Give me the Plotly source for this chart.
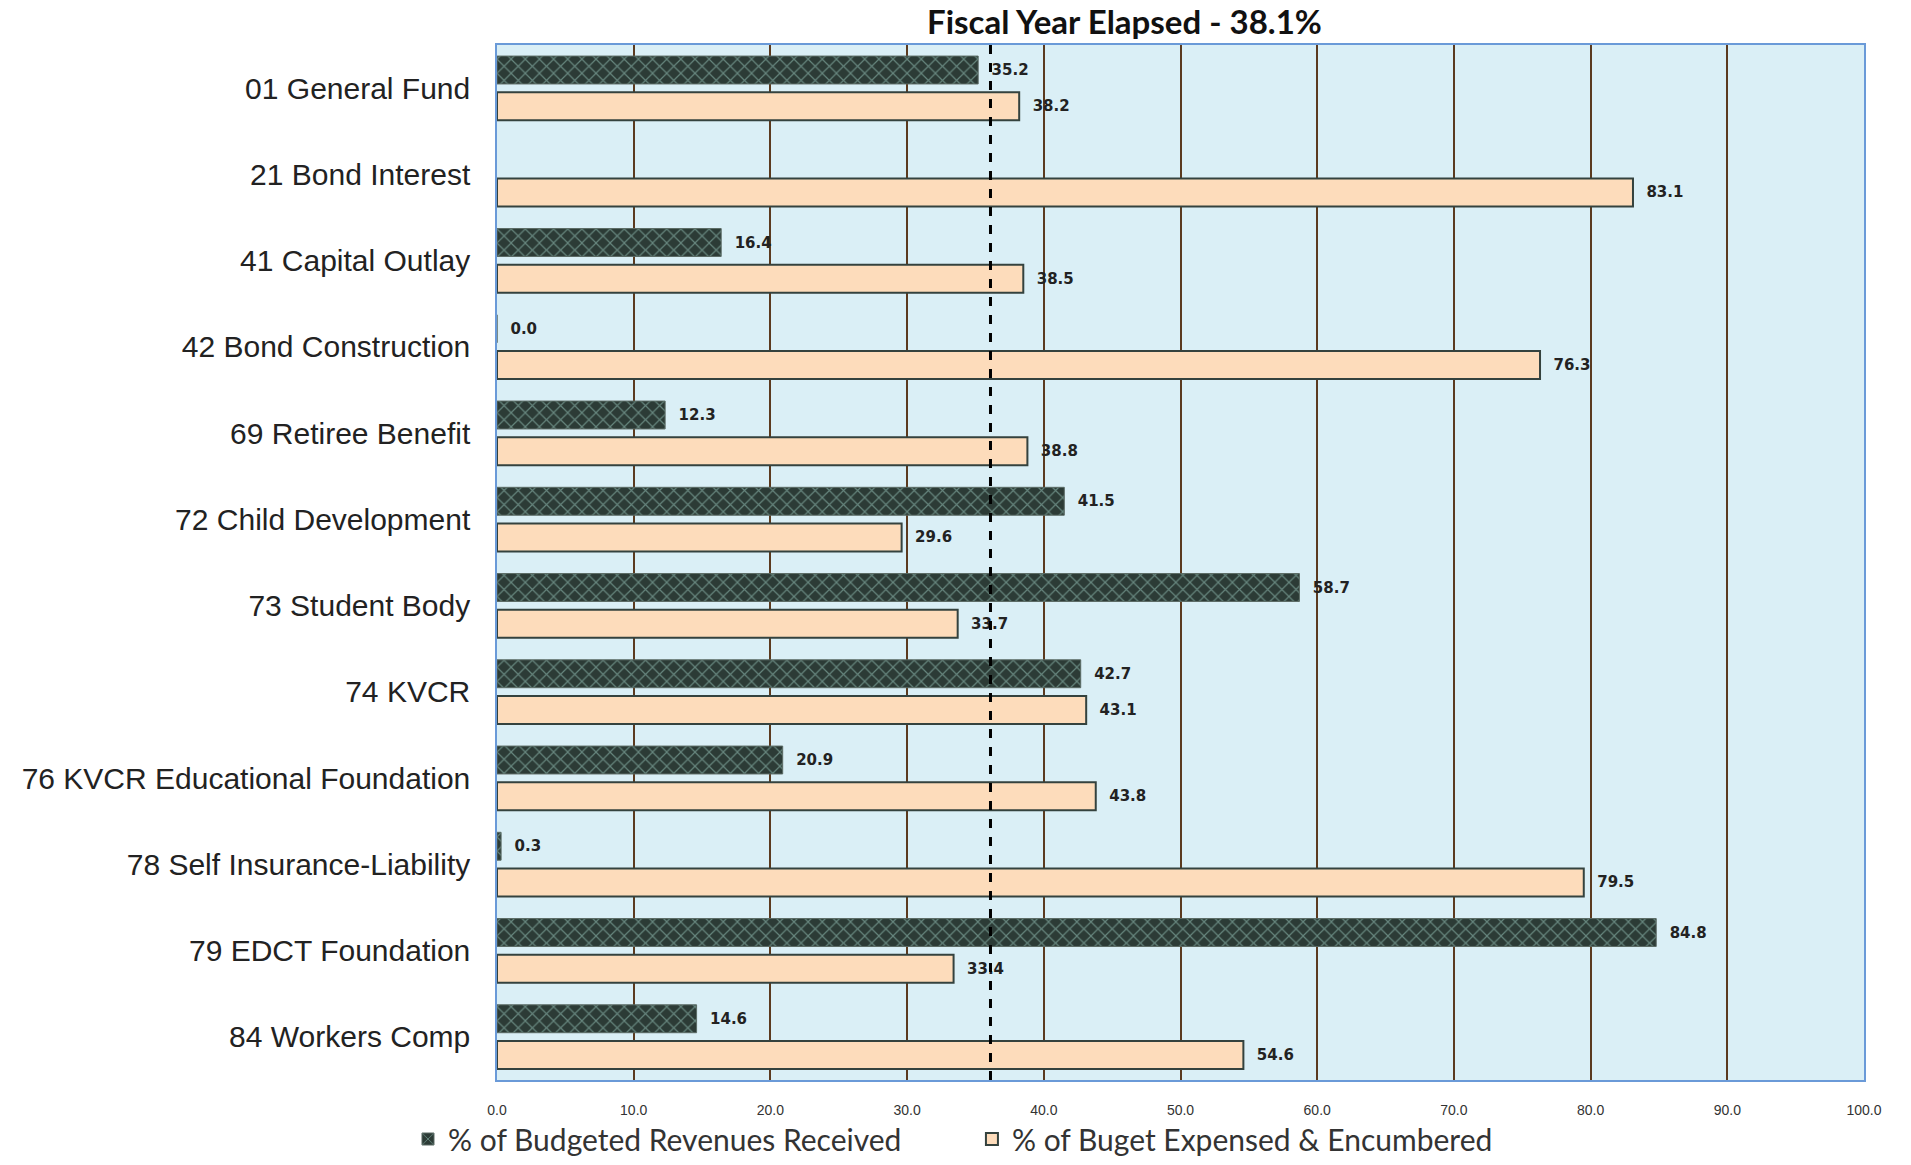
import plotly.graph_objects as go

categories = [
    "01 General Fund", "21 Bond Interest", "41 Capital Outlay", "42 Bond Construction",
    "69 Retiree Benefit", "72 Child Development", "73 Student Body", "74 KVCR",
    "76 KVCR Educational Foundation", "78 Self Insurance-Liability",
    "79 EDCT Foundation", "84 Workers Comp",
]
revenues = [35.2, None, 16.4, 0.0, 12.3, 41.5, 58.7, 42.7, 20.9, 0.3, 84.8, 14.6]
expensed = [38.2, 83.1, 38.5, 76.3, 38.8, 29.6, 33.7, 43.1, 43.8, 79.5, 33.4, 54.6]
elapsed_line = 36.1
title_text = "Fiscal Year Elapsed - 38.1%"
x_ticks = [0, 10, 20, 30, 40, 50, 60, 70, 80, 90, 100]
x_tick_labels = ["0.0", "10.0", "20.0", "30.0", "40.0", "50.0", "60.0", "70.0", "80.0", "90.0", "100.0"]

label_font = dict(family="DejaVu Sans", size=15, color="#222222", weight="bold")
legend_font = dict(family="Lato", size=30, color="#333333")

fig = go.Figure()
fig.add_trace(go.Bar(
    y=categories, x=revenues, orientation="h",
    name="% of Budgeted Revenues Received", legend="legend",
    marker=dict(color="#2C3B36", line=dict(color="#5A6A64", width=1),
                pattern=dict(shape="x", fgcolor="#9FD0C4", bgcolor="#2C3B36", size=10, solidity=0.22)),
    texttemplate="  %{x:.1f}", textposition="outside", cliponaxis=False,
    textfont=label_font,
))
fig.add_trace(go.Bar(
    y=categories, x=expensed, orientation="h",
    name="% of Buget Expensed & Encumbered", legend="legend2",
    marker=dict(color="#FDDCBB", line=dict(color="#34423E", width=2)),
    texttemplate="  %{x:.1f}", textposition="outside", cliponaxis=False,
    textfont=label_font,
))

fig.add_shape(type="line", xref="x", yref="paper", x0=elapsed_line, x1=elapsed_line,
              y0=0, y1=1.005, line=dict(color="black", width=3, dash="dash"))

fig.add_annotation(text=title_text, xref="paper", yref="paper", x=0.459, y=1.023,
                   xanchor="center", yanchor="middle", showarrow=False,
                   font=dict(family="Lato", size=33, color="#111111", weight="bold"))

fig.update_layout(
    width=1911, height=1165,
    margin=dict(l=497, r=47, t=45, b=85, autoexpand=False),
    paper_bgcolor="white", plot_bgcolor="#DAEFF6",
    barmode="group", bargap=0.16, bargroupgap=0.23,
    showlegend=True,
    legend=dict(orientation="h", xref="container", yref="container", x=0.2135, y=0.0,
                xanchor="left", yanchor="bottom", font=legend_font, itemwidth=30,
                bgcolor="rgba(0,0,0,0)"),
    legend2=dict(orientation="h", xref="container", yref="container", x=0.5086, y=0.0,
                 xanchor="left", yanchor="bottom", font=legend_font, itemwidth=30,
                 bgcolor="rgba(0,0,0,0)"),
    font=dict(family="Arial, Liberation Sans"),
)
fig.update_xaxes(range=[0, 100], tickvals=x_ticks, ticktext=x_tick_labels,
                 showgrid=True, gridcolor="#5B3A1F", gridwidth=1.5,
                 showline=True, linecolor="#6A9AD8", linewidth=1.5, mirror=True,
                 zeroline=False, ticks="", ticklabelstandoff=16,
                 tickfont=dict(family="Liberation Sans Narrow, Liberation Sans", size=14, color="#333333"))
fig.update_yaxes(categoryorder="array", categoryarray=categories, autorange="reversed",
                 showgrid=False, showline=True, linecolor="#6A9AD8", linewidth=1.5, mirror=True,
                 ticks="", ticklabelstandoff=19,
                 tickfont=dict(family="Arial, Liberation Sans", size=30, color="#222222"))

fig.write_html("out.html")
